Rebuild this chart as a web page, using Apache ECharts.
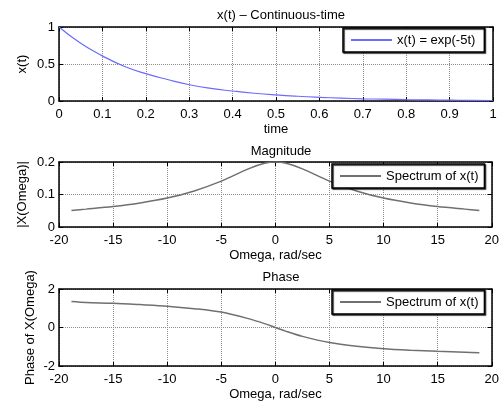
<!DOCTYPE html>
<html><head><meta charset="utf-8">
<script src="https://cdn.jsdelivr.net/npm/echarts@6/dist/echarts.min.js"></script>
<style>html,body{margin:0;padding:0;background:#fff}#c{width:502px;height:405px}</style>
</head><body><div id="c"></div>
<script>
// Top plot: x(t) = exp(-5t)
const tVals = [0, 0.05, 0.1, 0.15, 0.2, 0.25, 0.3, 0.35, 0.4, 0.45, 0.5, 0.55, 0.6, 0.65, 0.7, 0.75, 0.8, 0.85, 0.9, 0.95, 1];
const xVals = [1, 0.78, 0.61, 0.47, 0.37, 0.29, 0.22, 0.17, 0.135, 0.105, 0.082, 0.064, 0.05, 0.039, 0.03, 0.024, 0.018, 0.014, 0.011, 0.009, 0.007];
// Spectrum
const omega = [-18.85, -17.5, -15, -12.5, -10, -7.5, -5, -2.5, -1, 0, 1, 2.5, 5, 7.5, 10, 12.5, 15, 17.5, 18.85];
const magVals = [0.051, 0.055, 0.063, 0.074, 0.089, 0.111, 0.141, 0.179, 0.196, 0.2, 0.196, 0.179, 0.141, 0.111, 0.089, 0.074, 0.063, 0.055, 0.051];
const phaseVals = [1.35, 1.3, 1.26, 1.19, 1.11, 0.98, 0.8, 0.46, 0.2, 0, -0.2, -0.46, -0.78, -0.97, -1.1, -1.18, -1.24, -1.28, -1.31];

const titles = ['x(t) \u2013 Continuous-time', 'Magnitude', 'Phase'];
const xNames = ['time', 'Omega, rad/sec', 'Omega, rad/sec'];
const yNames = ['x(t)', '|X(Omega)|', 'Phase of X(Omega)'];
const legendNames = ['x(t) = exp(-5t)', 'Spectrum of x(t)'];

const FONT = 'Liberation Sans, Arial, sans-serif';
const FS = 13;
const grids = [
  {left: 59, top: 27, width: 434, height: 74},
  {left: 59, top: 162, width: 434, height: 65},
  {left: 59, top: 289, width: 434, height: 77}
];
const xRanges = [[0, 1, 0.1], [-20, 20, 5], [-20, 20, 5]];
const yRanges = [[0, 1, 0.5], [0, 0.2, 0.1], [-2, 2, 2]];
const yGaps = [30, 30, 22];

const lineAx = {show: true, onZero: false, lineStyle: {color: '#000', width: 1.5}};
const tick = {show: true, inside: true, length: 4, lineStyle: {color: '#000', width: 1}};
const split = {show: true, lineStyle: {color: '#8c8c8c', type: [1, 1], width: 1}};
const lbl = {color: '#000', fontFamily: FONT, fontSize: FS};

const xAxis = [], yAxis = [];
grids.forEach((g, i) => {
  const [xmin, xmax, xi] = xRanges[i];
  const [ymin, ymax, yi] = yRanges[i];
  xAxis.push({type: 'value', gridIndex: i, min: xmin, max: xmax, interval: xi, position: 'bottom',
    axisLine: lineAx, axisTick: tick, splitLine: split,
    axisLabel: Object.assign({margin: 7, formatter: v => String(+v.toFixed(2))}, lbl),
    name: xNames[i], nameLocation: 'middle', nameGap: 22, nameMoveOverlap: false,
    nameTextStyle: {color: '#000', fontFamily: FONT, fontSize: FS}});
  xAxis.push({type: 'value', gridIndex: i, min: xmin, max: xmax, interval: xi, position: 'top',
    axisLine: lineAx, axisTick: tick, splitLine: {show: false}, axisLabel: {show: false}});
  yAxis.push({type: 'value', gridIndex: i, min: ymin, max: ymax, interval: yi, position: 'left',
    axisLine: lineAx, axisTick: tick, splitLine: split,
    axisLabel: Object.assign({margin: 4, formatter: v => String(+v.toFixed(2))}, lbl),
    name: yNames[i], nameLocation: 'middle', nameGap: yGaps[i], nameMoveOverlap: false,
    nameTextStyle: {color: '#000', fontFamily: FONT, fontSize: FS}});
  yAxis.push({type: 'value', gridIndex: i, min: ymin, max: ymax, interval: yi, position: 'right',
    axisLine: lineAx, axisTick: tick, splitLine: {show: false}, axisLabel: {show: false}});
});

const zip = (a, b) => a.map((v, k) => [v, b[k]]);
const series = [
  {name: legendNames[0], type: 'line', xAxisIndex: 0, yAxisIndex: 0, data: zip(tVals, xVals), smooth: true,
    symbol: 'none', lineStyle: {color: '#6b6bff', width: 1.2}, itemStyle: {color: '#6b6bff'}},
  {name: legendNames[1], type: 'line', xAxisIndex: 2, yAxisIndex: 2, data: zip(omega, magVals), smooth: 0.3,
    symbol: 'none', lineStyle: {color: '#707070', width: 1.5}, itemStyle: {color: '#707070'}},
  {name: legendNames[1], type: 'line', xAxisIndex: 4, yAxisIndex: 4, data: zip(omega, phaseVals), smooth: 0.3,
    symbol: 'none', lineStyle: {color: '#707070', width: 1.5}, itemStyle: {color: '#707070'}}
];

const legBase = {orient: 'vertical', backgroundColor: '#fff', borderColor: '#000', borderWidth: 1.5,
  icon: 'rect', itemWidth: 41, itemHeight: 2, itemGap: 0, selectedMode: false,
  shadowColor: 'rgba(0,0,0,0.9)', shadowOffsetX: 1, shadowOffsetY: 1, shadowBlur: 1,
  textStyle: {color: '#000', fontFamily: FONT, fontSize: FS, lineHeight: 14, padding: [0, 0, 0, 0]}};
const legend = [
  Object.assign({}, legBase, {data: [legendNames[0]], left: 343, top: 28, padding: [5, 9, 5, 8]}),
  Object.assign({}, legBase, {data: [legendNames[1]], left: 332, top: 164, padding: [5, 6, 5, 8]}),
  Object.assign({}, legBase, {data: [legendNames[1]], left: 332, top: 290, padding: [5, 6, 5, 8]})
];

const title = titles.map((t, i) => ({text: t, left: 276, textAlign: 'center',
  top: [4, 140, 266][i], textStyle: {color: '#000', fontFamily: FONT, fontSize: FS, fontWeight: 'normal'}}));

const chart = echarts.init(document.getElementById('c'), null, {renderer: 'canvas'});
chart.setOption({backgroundColor: '#fff', animation: false, title, legend, grid: grids, xAxis, yAxis, series});
</script></body></html>
